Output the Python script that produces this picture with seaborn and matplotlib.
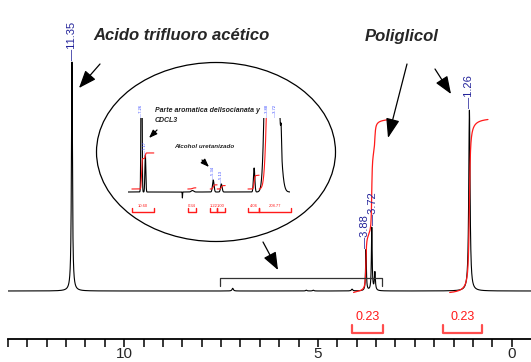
import numpy as np
import pandas as pd
import matplotlib
matplotlib.use('Agg')
import matplotlib.pyplot as plt
import seaborn as sns
from matplotlib.patches import Ellipse

sns.set_theme(style='white')
plt.rcParams['font.family'] = ['Liberation Sans', 'DejaVu Sans']

# ---- main spectrum (ppm as drawn, height a.u., half width ppm) ----
peak_shift = [11.35, 7.20, 5.30, 5.12, 4.12, 3.76, 3.61, 3.53, 1.09]
peak_height = [229, 2.7, 0.8, 0.8, 1.8, 41, 63, 18, 181]
peak_width = [0.015, 0.02, 0.02, 0.02, 0.02, 0.012, 0.012, 0.015, 0.02]
label_shift = [11.35, 3.79, 3.57, 1.09]
label_text = ['11.35', '3.88', '3.72', '1.26']

integ_from = [4.08, 1.60]
integ_to = [3.13, 0.61]
integ_value = [0.23, 0.23]
bracket_from = [4.13, 1.78]
bracket_to = [3.33, 0.77]

# ---- inset (zoom of 7.5 - 3.3 ppm) ----
inset_shift = [7.20, 7.10, 6.14, 5.88, 5.34, 5.13, 4.28, 3.88, 3.72, 3.58]
inset_height = [200, 37, -6, 1.5, 12, 8, 24, 460, 150, 20]
inset_sigma = [0.012, 0.012, 0.004, 0.03, 0.02, 0.02, 0.018, 0.078, 0.092, 0.01]
inset_label_shift = [7.21, 7.11, 5.35, 5.13, 3.95, 3.74]
inset_label_text = ['7.26', '7.17', '5.34', '5.13', '3.88', '3.72']
inset_from = [7.45, 6.00, 5.42, 5.24, 4.44, 4.15]
inset_to = [6.88, 5.79, 5.24, 5.03, 4.15, 3.32]
inset_value = [10.60, 0.34, 1.22, 1.00, 4.06, 208.77]

W, H = 531, 362
BLUE = '#23239a'
RED = '#ff1a1a'

ppm = np.linspace(13.05, -0.55, 8000)
spec = np.zeros_like(ppm)
for s, h, w in zip(peak_shift, peak_height, peak_width):
    spec += h / (1 + ((ppm - s) / w) ** 2)

ippm = np.linspace(7.55, 3.35, 4000)
ispec = np.zeros_like(ippm)
for s, h, w in zip(inset_shift, inset_height, inset_sigma):
    ispec += h * np.exp(-0.5 * ((ippm - s) / w) ** 2)


def integral(x, y, a, b, value, scale, offset):
    m = (x <= a) & (x >= b)
    xs, ys = x[m], y[m]
    order = np.argsort(-xs)
    xs, ys = xs[order], ys[order]
    c = np.cumsum(ys)
    return xs, c / c[-1] * value * scale + offset


fig = plt.figure(figsize=(W / 100, H / 100), dpi=100)

# main axes
ax = fig.add_axes([8 / W, 23 / H, 523 / W, 339 / H])
df = pd.DataFrame({'ppm': ppm, 'I': spec})
sns.lineplot(data=df, x='ppm', y='I', ax=ax, color='black', lw=0.8,
             estimator=None, sort=False)
ax.set_xlim(13.0, -0.5)
ax.set_ylim(-48, 291)
for sp in ['left', 'right', 'top']:
    ax.spines[sp].set_visible(False)
ax.spines['bottom'].set_linewidth(1.3)
ax.spines['bottom'].set_color('black')
ax.set_yticks([])
ticks = np.arange(0, 13.01, 0.5)
ax.set_xticks(ticks)
ax.set_xticklabels([f'{t:g}' if t % 5 == 0 else '' for t in ticks], fontsize=11)
ax.tick_params(axis='x', direction='out', length=6, width=1.1, pad=0,
               bottom=True, color='black')
ax.set_xlabel('')
ax.set_ylabel('')

for s, t in zip(label_shift, label_text):
    top = spec[np.abs(ppm - s) < 0.05].max()
    ax.text(s, top + 2, '\u2014' + t, rotation=90, ha='center', va='bottom',
            color=BLUE, fontsize=8)

for a, b, v, ba, bb in zip(integ_from, integ_to, integ_value, bracket_from, bracket_to):
    xs, cs = integral(ppm, spec, a, b, v, 173 / 0.23, -1.5)
    ax.plot(xs, cs, color=RED, lw=0.9)
    ax.plot([ba, ba, bb, bb], [-34, -42, -42, -34], color='#ff4d4d', lw=1.6,
            clip_on=False)
    ax.text((ba + bb) / 2, -26, f'{v:.2f}', color=RED, fontsize=9,
            ha='center', va='center')

# bracket marking the zoomed region
ax.plot([7.54, 7.54, 3.35, 3.35], [5, 13, 13, 5], color='#333333', lw=0.9)

# inset
ix = fig.add_axes([128 / W, 1 - 215 / H, 162 / W, 97 / H])
idf = pd.DataFrame({'ppm': ippm, 'I': ispec})
sns.lineplot(data=idf, x='ppm', y='I', ax=ix, color='black', lw=0.8,
             estimator=None, sort=False)
ix.set_xlim(7.55, 3.35)
ix.set_ylim(-23, 74)
ix.axis('off')

for s, t in zip(inset_label_shift, inset_label_text):
    top = min(ispec[np.abs(ippm - s) < 0.02].max(), 74)
    ix.text(s, top + 1, '\u2014' + t, rotation=90, ha='center', va='bottom',
            color='#3344ff', fontsize=3, clip_on=False)

for a, b, v in zip(inset_from, inset_to, inset_value):
    xs, cs = integral(ippm, ispec, a, b, v, 3.4, 3)
    ix.plot(xs, cs, color=RED, lw=0.8)
    ix.plot([a, a, b, b], [-16, -20, -20, -16], color=RED, lw=1.0, clip_on=False)
    ix.text((a + b) / 2, -14, f'{v:.2f}', color=RED, fontsize=3,
            ha='center', va='center', clip_on=False)

# ellipse around the inset
fig.add_artist(Ellipse((216 / W, 1 - 152 / H), 239 / W, 179 / H,
                       transform=fig.transFigure, fill=False,
                       edgecolor='black', lw=0.9))


def fp(x, y):
    return (x / W, 1 - y / H)


def arrow(x0, y0, x1, y1, hw=4, hl=9):
    ax.annotate('', xy=fp(x1, y1), xytext=fp(x0, y0), xycoords='figure fraction',
                textcoords='figure fraction',
                arrowprops=dict(arrowstyle=f'-|>,head_width={hw / 10},head_length={hl / 10}',
                                color='black', lw=0.9, shrinkA=0, shrinkB=0),
                annotation_clip=False)


arrow(100, 64, 79, 88, 3.5, 9)
arrow(407, 64, 388, 138, 3.5, 10)
arrow(435, 69, 451, 94, 3.5, 9)
arrow(263, 242, 278, 270, 3.5, 9)
arrow(157, 130, 149, 138, 1.5, 4)
arrow(202, 160, 209, 167, 1.5, 4)

fig.text(*fp(93, 36), 'Acido trifluoro acético', fontsize=12, fontweight='bold',
         fontstyle='italic', ha='left', va='center')
fig.text(*fp(365, 36), 'Poliglicol', fontsize=12, fontweight='bold',
         fontstyle='italic', ha='left', va='center')
fig.text(*fp(155, 111), 'Parte aromatica delIsocianata y', fontsize=5,
         fontweight='bold', fontstyle='italic', ha='left', va='center', color='#222222')
fig.text(*fp(155, 120), 'CDCL3', fontsize=5, fontweight='bold',
         fontstyle='italic', ha='left', va='center', color='#222222')
fig.text(*fp(174, 147), 'Alcohol uretanizado', fontsize=4.5, fontweight='bold',
         fontstyle='italic', ha='left', va='center', color='#222222')

fig.savefig('out.png', dpi=100)
